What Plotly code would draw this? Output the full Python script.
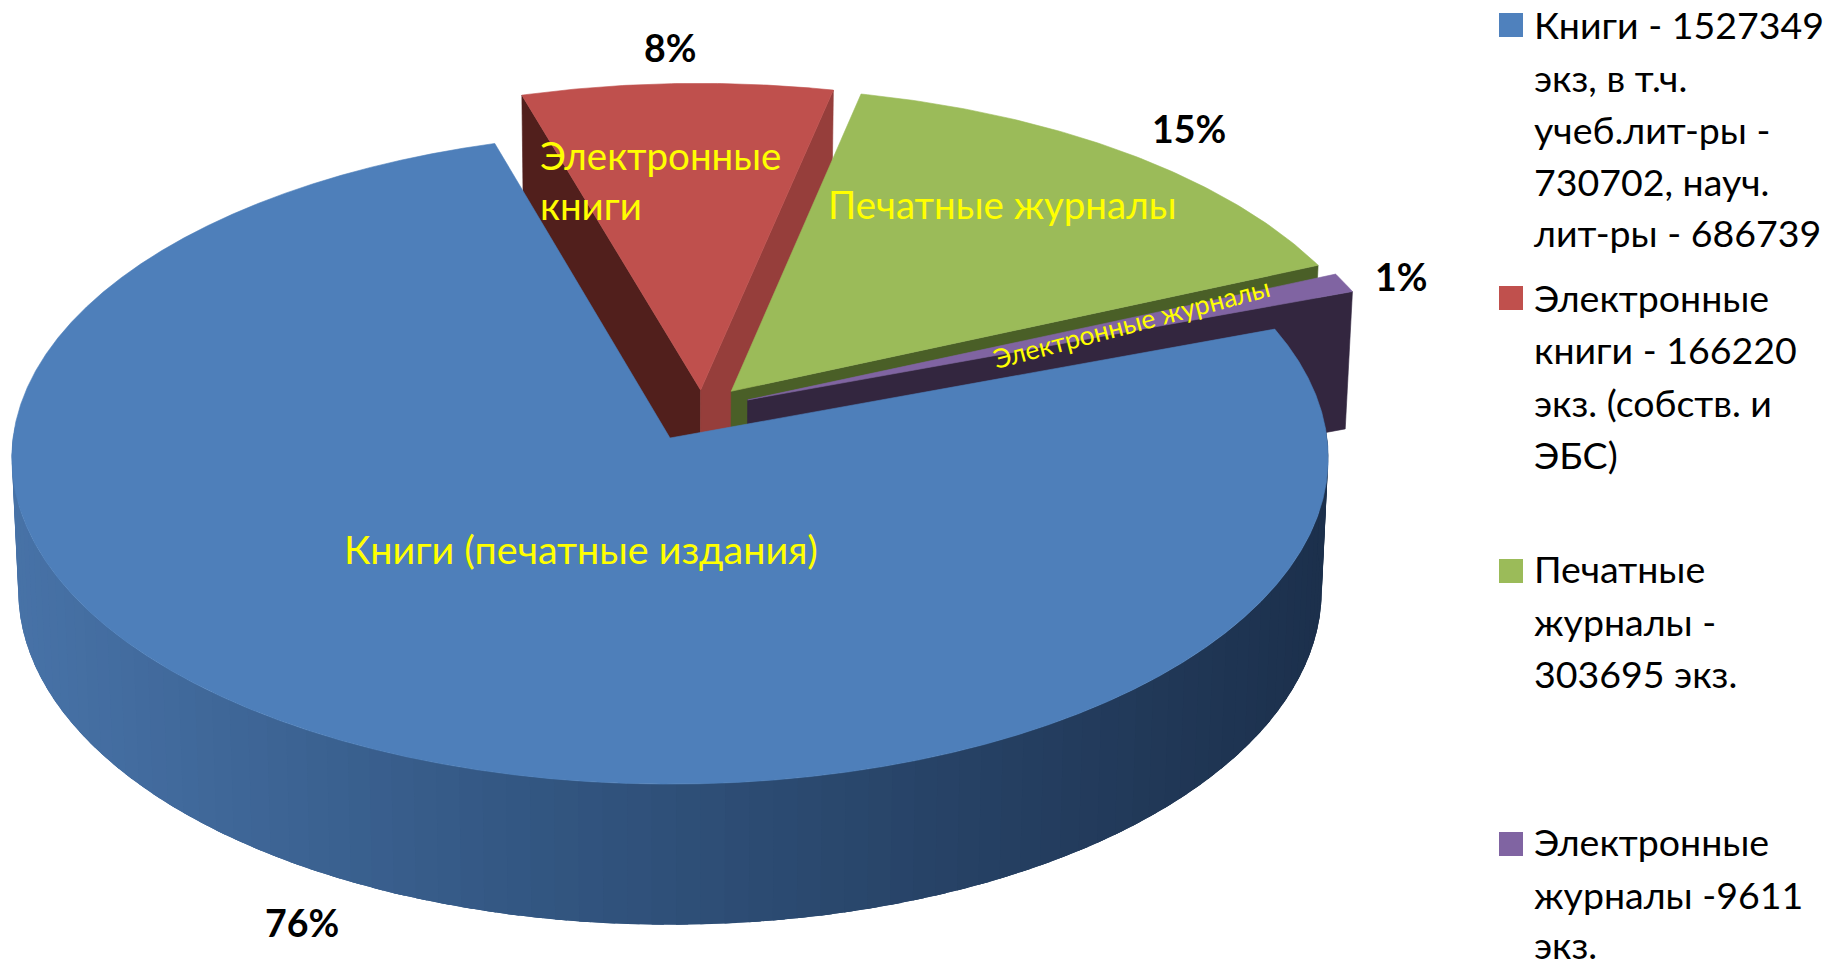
import numpy as np
import plotly.graph_objects as go

# ---------- data ----------
categories = ["Книги (печатные издания)", "Электронные книги", "Печатные журналы", "Электронные журналы"]
shares = [76, 8, 15, 1]
percent_labels = ["76%", "8%", "15%", "1%"]
legend_lines = [
    ["Книги - 1527349", "экз, в т.ч.", "учеб.лит-ры -", "730702, науч.", "лит-ры - 686739"],
    ["Электронные", "книги - 166220", "экз. (собств. и", "ЭБС)"],
    ["Печатные", "журналы -", "303695 экз."],
    ["Электронные", "журналы -9611", "экз."],
]

# ---------- styles / geometry ----------
TOP = ["#4E7FBA", "#BF504D", "#9BBB59", "#8064A2"]
LEGEND_COLORS = ["#4F81BD", "#C0504D", "#9BBB59", "#8064A2"]
WALL_A = [None, "#511F1C", None, None]
WALL_B = [None, "#963E3B", "#4A5F27", "#33263F"]
OFFSET = [(0, 0), (0.047, 0.149), (0.094, 0.145), (0.119, 0.118)]
RADIUS = [1.0, 1.02, 1.01, 1.01]
DEPTH_F = [1.0, 1.0, 1.0, 1.07]
CX, CY, RX, RY, K, DEPTH, KZ = 670, 438, 657, 325, 0.061, 132, 0.01
FONT = "Lato"
START = 106.4  # screen angle at which the second slice starts, clockwise


def proj(X, Y, z=0.0):
    X, Y = np.asarray(X, float), np.asarray(Y, float)
    w = 1 + K * Y
    return CX + RX * X / (w * (1 + KZ * z)), CY - RY * Y / w + DEPTH * z / w


def rim(i, a, b, z=0.0, n=90):
    t = np.radians(np.linspace(a, b, n))
    ox, oy = OFFSET[i]
    r = RADIUS[i]
    return proj(ox + r * np.cos(t), oy + r * np.sin(t), z)


def poly(xs, ys, color, lw=0.6):
    return go.Scatter(x=list(xs), y=list(ys), mode="lines", fill="toself", fillcolor=color,
                      line=dict(color=color, width=lw), hoverinfo="skip", showlegend=False)


def top_face(i, a, b):
    x, y = rim(i, a, b)
    ax, ay = proj(*OFFSET[i])
    return poly(np.r_[ax, x, ax], np.r_[ay, y, ay], TOP[i])


def wall(i, ang, color):
    z = DEPTH_F[i]
    x0, y0 = proj(*OFFSET[i])
    x1, y1 = proj(*OFFSET[i], z)
    xa, ya = rim(i, ang, ang, n=1)
    xb, yb = rim(i, ang, ang, z=z, n=1)
    return poly([x0, xa[0], xb[0], x1, x0], [y0, ya[0], yb[0], y1, y0], color)


# slice angle ranges, clockwise from the start of the second slice
spans = [s / sum(shares) * 360 for s in shares]
ang = {}
cur = START
for i in [1, 2, 3, 0]:
    ang[i] = (cur, cur - spans[i])
    cur -= spans[i]

fig = go.Figure()
for i in [1, 2, 3]:
    a, b = ang[i]
    if WALL_A[i]:
        fig.add_trace(wall(i, a, WALL_A[i]))
    fig.add_trace(wall(i, b, WALL_B[i]))
    fig.add_trace(top_face(i, a, b))

# outer side of the large slice, shaded across its width; each strip overlaps the next
stops_x = [10, 500, 1330]
stops_c = np.array([[72, 115, 168], [52, 88, 132], [28, 48, 76]], float)
edges = np.linspace(-182, 3, 93)
step = edges[1] - edges[0]
for t0 in edges[:-1]:
    t1 = min(t0 + 2.5 * step, edges[-1])
    xt, yt = rim(0, t0, t1, n=6)
    xb, yb = rim(0, t1, t0, z=1, n=6)
    mid = (xt[0] + xb[-1]) / 2 + 5
    c = [int(np.interp(mid, stops_x, stops_c[:, j])) for j in range(3)]
    fig.add_trace(poly(np.r_[xt, xb, xt[0]], np.r_[yt, yb, yt[0]], f"rgb({c[0]},{c[1]},{c[2]})", lw=0))

fig.add_trace(top_face(0, ang[0][0], ang[0][1]))

# text
notes = []


def note(x, y, text, size, color="black", bold=False, anchor="left", angle=0):
    notes.append(dict(x=x, y=y, xref="x", yref="y", text=f"<b>{text}</b>" if bold else text,
                      showarrow=False, xanchor=anchor, yanchor="middle", textangle=angle,
                      font=dict(family=FONT, size=size, color=color)))


YEL = "#FFFF00"
note(581, 548, categories[0], 39.5, YEL, anchor="center")
words = categories[1].split()
note(538, 155, words[0], 38.5, YEL)
note(538, 205, words[1], 38.5, YEL)
note(1002, 204, categories[2], 38.5, YEL, anchor="center")
note(1131, 323, categories[3], 26.5, YEL, anchor="center", angle=-14.8)

for (x, y), lab in zip([(302, 922), (670, 47), (1189, 128), (1401, 276)], percent_labels):
    note(x, y, lab, 37.5, bold=True, anchor="center")

LEG_Y = [[24, 77, 129, 181, 232], [297, 349, 402, 454], [568, 621, 673], [841, 894, 944]]
SQ_Y = [25, 298, 571, 844]
for lines, ys in zip(legend_lines, LEG_Y):
    for line, y in zip(lines, ys):
        note(1532, y, line, 37.5)

fig.add_trace(go.Scatter(x=[1511] * 4, y=SQ_Y, mode="markers", hoverinfo="skip", showlegend=False,
                         marker=dict(symbol="square", size=24, color=LEGEND_COLORS, line=dict(width=0))))

fig.update_layout(width=1829, height=961, margin=dict(l=0, r=0, t=0, b=0),
                  paper_bgcolor="white", plot_bgcolor="white", showlegend=False, annotations=notes,
                  xaxis=dict(range=[0, 1829], visible=False, fixedrange=True),
                  yaxis=dict(range=[961, 0], visible=False, fixedrange=True))

fig.write_html("out.html", config=dict(displayModeBar=False),
               post_script="document.body.style.margin='0';document.body.style.overflow='hidden';")
